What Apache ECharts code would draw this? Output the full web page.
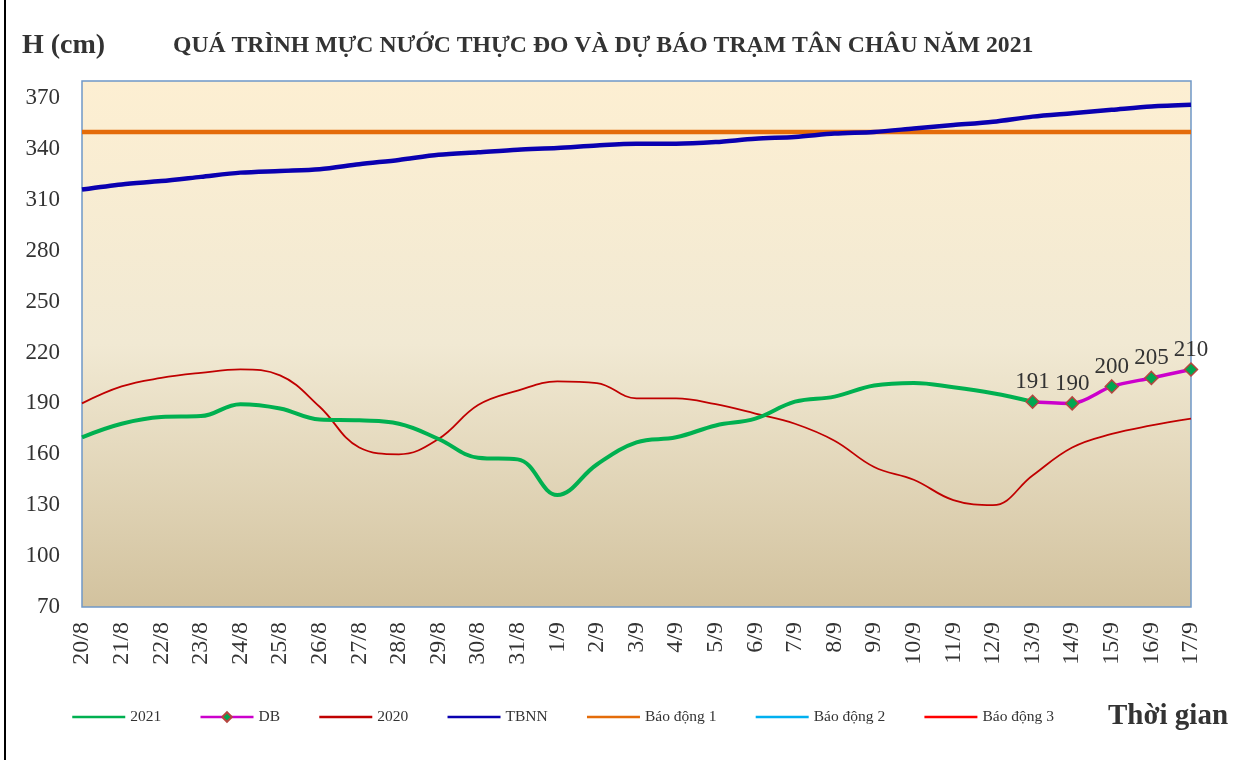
<!DOCTYPE html>
<html>
<head>
<meta charset="utf-8">
<script src="https://cdn.jsdelivr.net/npm/echarts@6/dist/echarts.min.js"></script>
<style>
html,body{margin:0;padding:0;background:#fff;}
#c{width:1241px;height:760px;}
</style>
</head>
<body>
<div id="c"></div>
<script>
var categories = ['20/8','21/8','22/8','23/8','24/8','25/8','26/8','27/8','28/8','29/8','30/8','31/8',
  '1/9','2/9','3/9','4/9','5/9','6/9','7/9','8/9','9/9','10/9','11/9','12/9','13/9','14/9','15/9','16/9','17/9'];
var s2021 = [170,178,182,182.5,189.5,187,180.5,180,178,169,158,157,136,154,167,170,177,181,191,194,200.5,202,199.5,196,191,null,null,null,null];
var sDB = [null,null,null,null,null,null,null,null,null,null,null,null,null,null,null,null,null,null,null,null,null,null,null,null,191,190,200,205,210];
var s2020 = [190,200,205,208,210,206.5,188,164,160,169,189,197.5,203,202,193,193,189.5,184,178,168,152.5,145,133,130,147.5,164,172,177,181];
var sTBNN = [316,319,321,323.5,326,327,328,331,333.5,336.5,338,339.5,340.5,342,343,343,344,346,347,349,350,352,354,356,359,361,363,365,366];
var alarm1 = 350, alarm2 = 400, alarm3 = 450;
var yTicks = {min:70, max:380, interval:30};
var legendNames = ['2021','DB','2020','TBNN','Báo động 1','Báo động 2','Báo động 3'];

function flat(v){ return categories.map(function(){ return v; }); }

var serif = '"Liberation Serif","DejaVu Serif",serif';
var chart = echarts.init(document.getElementById('c'), null, {renderer:'canvas'});
chart.setOption({
  animation:false,
  backgroundColor:'#ffffff',
  title:{
    text:'QUÁ TRÌNH MỰC NƯỚC THỰC ĐO VÀ DỰ BÁO TRẠM TÂN CHÂU NĂM 2021',
    left:168, top:29,
    textStyle:{fontFamily:serif, fontWeight:'bold', fontSize:23.7, color:'#333333'}
  },
  graphic:[
    {type:'line', shape:{x1:5,y1:0,x2:5,y2:760}, style:{stroke:'#000', lineWidth:2}},
    {type:'text', left:22, top:32, style:{text:'H (cm)', font:'bold 28px '+serif, fill:'#333333'}},
    {type:'text', left:1108, top:702, style:{text:'Thời gian', font:'bold 29px '+serif, fill:'#333333'}}
  ],
  grid:{left:82, right:50, top:81, bottom:153, show:true, borderColor:'#6f98c8', borderWidth:1.5,
    backgroundColor:new echarts.graphic.LinearGradient(0,0,0,1,[
      {offset:0,color:'#fdefd2'},{offset:0.5,color:'#f1e9d3'},{offset:1,color:'#d2c29e'}])},
  legend:{
    left:66, top:704, itemWidth:53, itemHeight:12, itemGap:38,
    textStyle:{fontFamily:serif, fontSize:15.5, color:'#333333'},
    lineStyle:{width:2.5},
    data:legendNames.map(function(n){
      return n === 'DB' ? {name:n} : {name:n, itemStyle:{opacity:0}};
    })
  },
  xAxis:{
    type:'category', data:categories, boundaryGap:false,
    axisLine:{show:false}, axisTick:{show:false}, splitLine:{show:false},
    axisLabel:{rotate:90, margin:15, interval:0, fontFamily:serif, fontSize:24, color:'#333333'}
  },
  yAxis:{
    type:'value', min:yTicks.min, max:yTicks.max, interval:yTicks.interval,
    axisLine:{show:false}, axisTick:{show:false}, splitLine:{show:false},
    axisLabel:{margin:22, showMaxLabel:false, fontFamily:serif, fontSize:23, color:'#333333',
      formatter:function(v){ return v>=yTicks.max ? '' : String(v); }}
  },
  series:[
    {name:'2021', type:'line', data:s2021, smooth:0.4, symbol:'none', color:'#00b050',
      lineStyle:{color:'#00b050', width:4}, z:5},
    {name:'DB', type:'line', data:sDB, smooth:0.3, symbol:'diamond', symbolSize:13, color:'#cc00cc',
      lineStyle:{color:'#cc00cc', width:3.5},
      itemStyle:{color:'#00a651', borderColor:'#b5453f', borderWidth:1.5},
      label:{show:true, position:'top', distance:1, fontFamily:serif, fontSize:23, color:'#333333'}, z:6},
    {name:'2020', type:'line', data:s2020, smooth:0.4, symbol:'none', color:'#c00000',
      lineStyle:{color:'#c00000', width:1.8}, z:4},
    {name:'TBNN', type:'line', data:sTBNN, smooth:0.3, symbol:'none', color:'#0000b0',
      lineStyle:{color:'#0a00b0', width:4.5}, z:4},
    {name:'Báo động 1', type:'line', data:flat(alarm1), symbol:'none', color:'#e46c0a',
      lineStyle:{color:'#e46c0a', width:4.5}, z:3},
    {name:'Báo động 2', type:'line', data:flat(alarm2), symbol:'none', color:'#00b0f0',
      lineStyle:{color:'#00b0f0', width:2}, clip:true},
    {name:'Báo động 3', type:'line', data:flat(alarm3), symbol:'none', color:'#ff0000',
      lineStyle:{color:'#ff0000', width:2}, clip:true}
  ]
});
</script>
</body>
</html>
